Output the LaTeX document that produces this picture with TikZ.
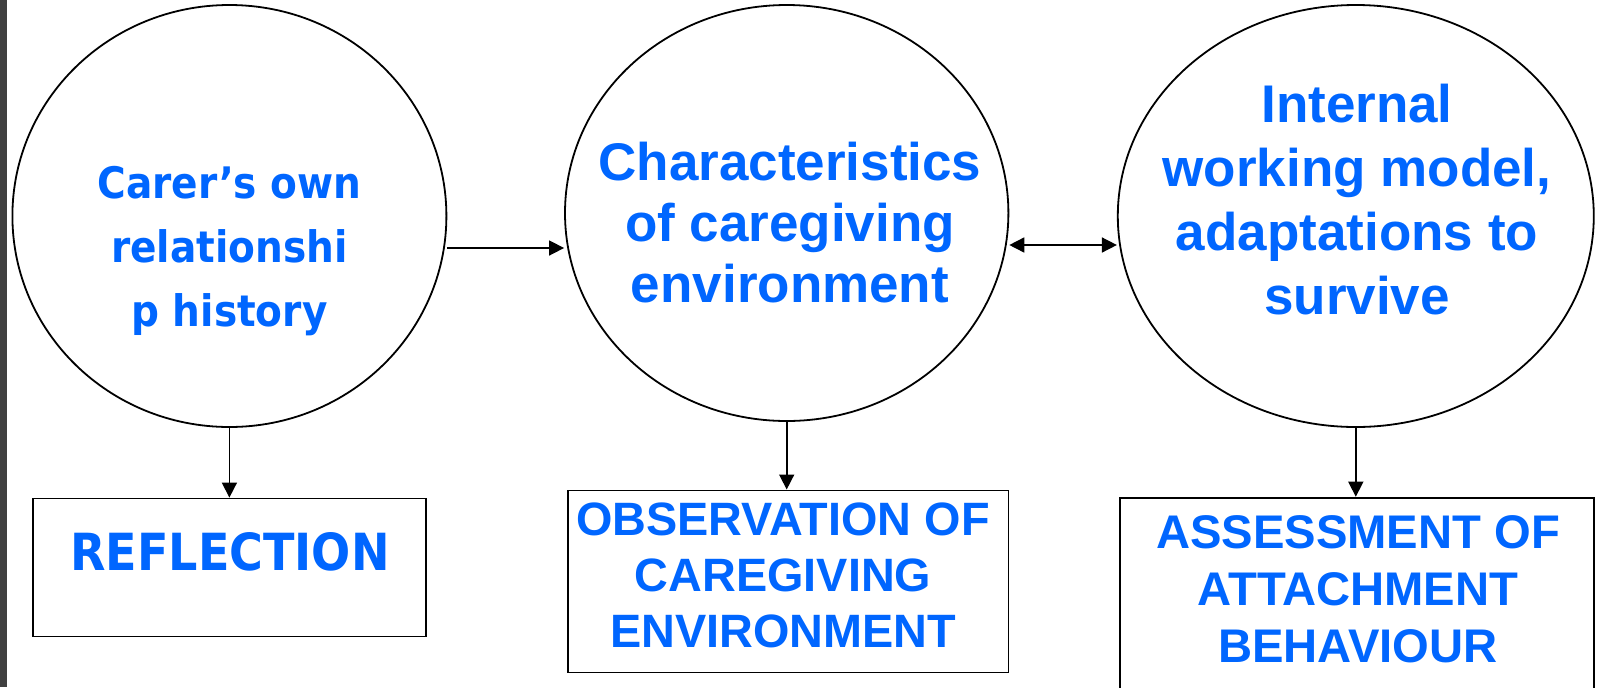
\documentclass[tikz,border=0pt]{standalone}
\usepackage{fontspec}
\setmainfont{Liberation Sans}
\newfontfamily\tah{DejaVu Sans}[FakeStretch=0.9]
\usetikzlibrary{shapes.geometric,arrows.meta}
\definecolor{txtblue}{RGB}{0,102,255}
\begin{document}
\begin{tikzpicture}[x=0.5pt,y=-0.5pt,
  bubble/.style={ellipse,draw=black,line width=0.9pt,fill=white,inner sep=0pt},
  box/.style={rectangle,draw=black,line width=0.9pt,fill=white,inner sep=0pt},
  lbl/.style={text=txtblue,align=center,inner sep=0pt},
  arr/.style={line width=0.8pt,-{Triangle[length=7.5pt,width=7.5pt]}},
  darr/.style={line width=0.8pt,{Triangle[length=7.5pt,width=7.5pt]}-{Triangle[length=7.5pt,width=7.5pt]}}]
\useasboundingbox (0,0) rectangle (1602,687);
\fill[white] (0,0) rectangle (1602,687);
\fill[black!75] (0,0) rectangle (7,687);
% ellipses
\node[bubble,minimum width=217pt,minimum height=211pt] (E1) at (229.4,216) {};
\node[bubble,minimum width=221.7pt,minimum height=208pt] (E2) at (786.7,213) {};
\node[bubble,minimum width=238pt,minimum height=211pt] (E3) at (1355.8,216) {};
% boxes
\node[box,minimum width=196.7pt,minimum height=69pt] (B1) at (229.4,567.5) {};
\node[box,minimum width=220.2pt,minimum height=91pt] (B2) at (788.2,581.4) {};
\node[box,minimum width=237pt,minimum height=101.2pt] (B3) at (1356.9,598.8) {};
% texts
\node[lbl,font=\tah\bfseries\fontsize{21.7pt}{32pt}\selectfont] (t1) at (229.4,251) {Carer’s own\\relationshi\\p history};
\node[lbl,font=\bfseries\fontsize{26.5pt}{30.5pt}\selectfont] (t2) at (790,223) {Characteristics\\of caregiving\\environment};
\node[lbl,font=\bfseries\fontsize{26.5pt}{32pt}\selectfont] (t3) at (1357,200) {Internal\\working model,\\adaptations to\\survive};
\node[lbl,font=\tah\bfseries\fontsize{25.6pt}{30pt}\selectfont] (t4) at (230,552) {REFLECTION};
\node[lbl,font=\bfseries\fontsize{23.4pt}{28pt}\selectfont] (t5) at (783,575) {OBSERVATION OF\\CAREGIVING\\ENVIRONMENT};
\node[lbl,font=\bfseries\fontsize{23.6pt}{28.5pt}\selectfont] (t6) at (1358,589.5) {ASSESSMENT OF\\ATTACHMENT\\BEHAVIOUR};
% connectors
\coordinate (h1) at (0,248);
\coordinate (h2) at (0,245);
\draw[arr] (E1.east |- h1) -- (E2.west |- h1);
\draw[darr] (E2.east |- h2) -- (E3.west |- h2);
\draw[arr] (E1.south) -- (B1.north);
\draw[arr] (E2.south) -- (E2.south |- B2.north);
\draw[arr] (E3.south) -- (E3.south |- B3.north);
\end{tikzpicture}
\end{document}
